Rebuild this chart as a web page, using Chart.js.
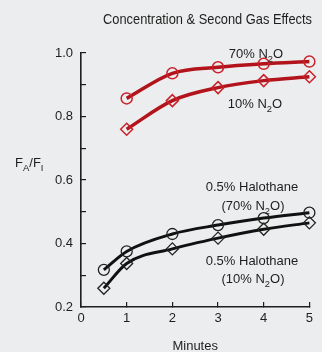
<!DOCTYPE html>
<html>
<head>
<meta charset="utf-8">
<script src="https://cdn.jsdelivr.net/npm/chart.js@4.4.1/dist/chart.umd.min.js"></script>
<style>
  html, body { margin: 0; padding: 0; background: #ecedee; }
  canvas { display: block; }
</style>
</head>
<body>
<canvas id="chartId" width="322" height="352"></canvas>
<script>
// values
var minutesN2O = [1, 2, 3, 4, 5];
var n2o70 = [0.857, 0.936, 0.955, 0.966, 0.973];
var n2o10 = [0.760, 0.850, 0.891, 0.913, 0.925];

var minutesHal = [0.5, 1, 2, 3, 4, 5];
var hal70 = [0.317, 0.375, 0.430, 0.458, 0.480, 0.497];
var hal10 = [0.259, 0.337, 0.383, 0.417, 0.445, 0.465];

var xTicks = [0, 1, 2, 3, 4, 5];
var yTickLabels = ['0.2', '0.4', '0.6', '0.8', '1.0'];

function pts(xs, ys) {
    return xs.map(function (x, i) { return { x: x, y: ys[i] }; });
}

var RED = '#b3141c';
var RED_MK = '#c8222a';
var INK = '#1e1e1e';
var FONT = '"Liberation Sans", Arial, Helvetica, sans-serif';

// text with subscripts: parts = [[text, isSub], ...]
function richText(ctx, parts, cx, base, size) {
    var sub = size * 0.72;
    var w = 0;
    parts.forEach(function (p) {
        ctx.font = (p[1] ? sub : size) + 'px ' + FONT;
        w += ctx.measureText(p[0]).width;
    });
    var x = cx - w / 2;
    parts.forEach(function (p) {
        ctx.font = (p[1] ? sub : size) + 'px ' + FONT;
        ctx.fillText(p[0], x, p[1] ? base + size * 0.28 : base);
        x += ctx.measureText(p[0]).width;
    });
}

var labelsPlugin = {
    id: 'labels',
    beforeDraw: function (chart) {
        var ctx = chart.ctx;
        ctx.save();
        ctx.fillStyle = '#ecedee';
        ctx.fillRect(0, 0, chart.width, chart.height);
        ctx.restore();
    },
    afterDraw: function (chart) {
        var ctx = chart.ctx;
        ctx.save();
        ctx.fillStyle = INK;
        ctx.textAlign = 'left';
        ctx.textBaseline = 'alphabetic';

        // title, a little condensed like the original type
        var title = 'Concentration & Second Gas Effects';
        ctx.font = '15px ' + FONT;
        var tw = ctx.measureText(title).width;
        ctx.save();
        ctx.translate(103, 24);
        ctx.scale(209 / tw, 1);
        ctx.fillText(title, 0, 0);
        ctx.restore();

        richText(ctx, [['70% N', false], ['2', true], ['O', false]], 256, 58, 13);
        richText(ctx, [['10% N', false], ['2', true], ['O', false]], 255, 108, 13);
        richText(ctx, [['0.5% Halothane', false]], 252, 191, 13);
        richText(ctx, [['(70% N', false], ['2', true], ['O)', false]], 253, 210, 13);
        richText(ctx, [['0.5% Halothane', false]], 252, 265, 13);
        richText(ctx, [['(10% N', false], ['2', true], ['O)', false]], 253, 283, 13);

        // y axis label F_A/F_I
        var x = 15, b = 167;
        ctx.font = '13px ' + FONT;
        ctx.fillText('F', x, b); x += ctx.measureText('F').width;
        ctx.font = '9.5px ' + FONT;
        ctx.fillText('A', x, b + 3.5); x += ctx.measureText('A').width;
        ctx.font = '13px ' + FONT;
        ctx.fillText('/F', x, b); x += ctx.measureText('/F').width;
        ctx.font = '9.5px ' + FONT;
        ctx.fillText('I', x, b + 3.5);
        ctx.restore();
    }
};

window.onload = function () {
    var chrt = document.getElementById('chartId').getContext('2d');
    var chartId = new Chart(chrt, {
        type: 'line',
        data: {
            datasets: [{
                data: pts(minutesN2O, n2o70),
                borderColor: RED,
                borderWidth: 3.5,
                pointStyle: 'circle',
                pointRadius: 5.5,
                pointBorderColor: RED_MK,
                pointBorderWidth: 1.5,
                pointBackgroundColor: 'rgba(0,0,0,0)',
            }, {
                data: pts(minutesN2O, n2o10),
                borderColor: RED,
                borderWidth: 3.5,
                pointStyle: 'rectRot',
                pointRadius: 6,
                pointBorderColor: RED_MK,
                pointBorderWidth: 1.5,
                pointBackgroundColor: 'rgba(0,0,0,0)',
            }, {
                data: pts(minutesHal, hal70),
                borderColor: '#111',
                borderWidth: 3,
                pointStyle: 'circle',
                pointRadius: 5.5,
                pointBorderColor: '#222',
                pointBorderWidth: 1.3,
                pointBackgroundColor: 'rgba(0,0,0,0)',
            }, {
                data: pts(minutesHal, hal10),
                borderColor: '#111',
                borderWidth: 3,
                pointStyle: 'rectRot',
                pointRadius: 6,
                pointBorderColor: '#222',
                pointBorderWidth: 1.3,
                pointBackgroundColor: 'rgba(0,0,0,0)',
            }],
        },
        plugins: [labelsPlugin],
        options: {
            responsive: false,
            animation: false,
            clip: false,
            layout: {
                padding: { left: 0, top: 53, right: 11, bottom: 0 }
            },
            elements: {
                line: { cubicInterpolationMode: 'monotone', fill: false }
            },
            plugins: {
                legend: { display: false },
                tooltip: { enabled: false },
            },
            scales: {
                x: {
                    type: 'linear',
                    min: 0,
                    max: 5,
                    afterBuildTicks: function (scale) {
                        scale.ticks = xTicks.map(function (v) { return { value: v }; });
                    },
                    afterFit: function (scale) { scale.height = 45; },
                    ticks: {
                        color: INK,
                        font: { size: 13, family: FONT },
                        padding: 9,
                        autoSkip: false,
                        maxRotation: 0,
                    },
                    grid: {
                        drawOnChartArea: false,
                        tickLength: -5,
                        color: INK,
                        lineWidth: 1.2,
                    },
                    border: { color: INK, width: 1.6 },
                    title: {
                        display: true,
                        text: 'Minutes',
                        color: INK,
                        font: { size: 13, family: FONT },
                        padding: { top: 0, bottom: -2 },
                    },
                },
                y: {
                    min: 0.2,
                    max: 1.0,
                    afterFit: function (scale) { scale.width = 81; },
                    ticks: {
                        stepSize: 0.1,
                        autoSkip: false,
                        color: INK,
                        font: { size: 13, family: FONT },
                        padding: 13,
                        callback: function (v) {
                            var i = Math.round(v * 10);
                            return i % 2 === 0 ? yTickLabels[(i - 2) / 2] : '';
                        },
                    },
                    grid: {
                        drawOnChartArea: false,
                        tickLength: -5,
                        color: INK,
                        lineWidth: 1.2,
                    },
                    border: { color: INK, width: 1.6 },
                },
            },
        },
    });
};
</script>
</body>
</html>
